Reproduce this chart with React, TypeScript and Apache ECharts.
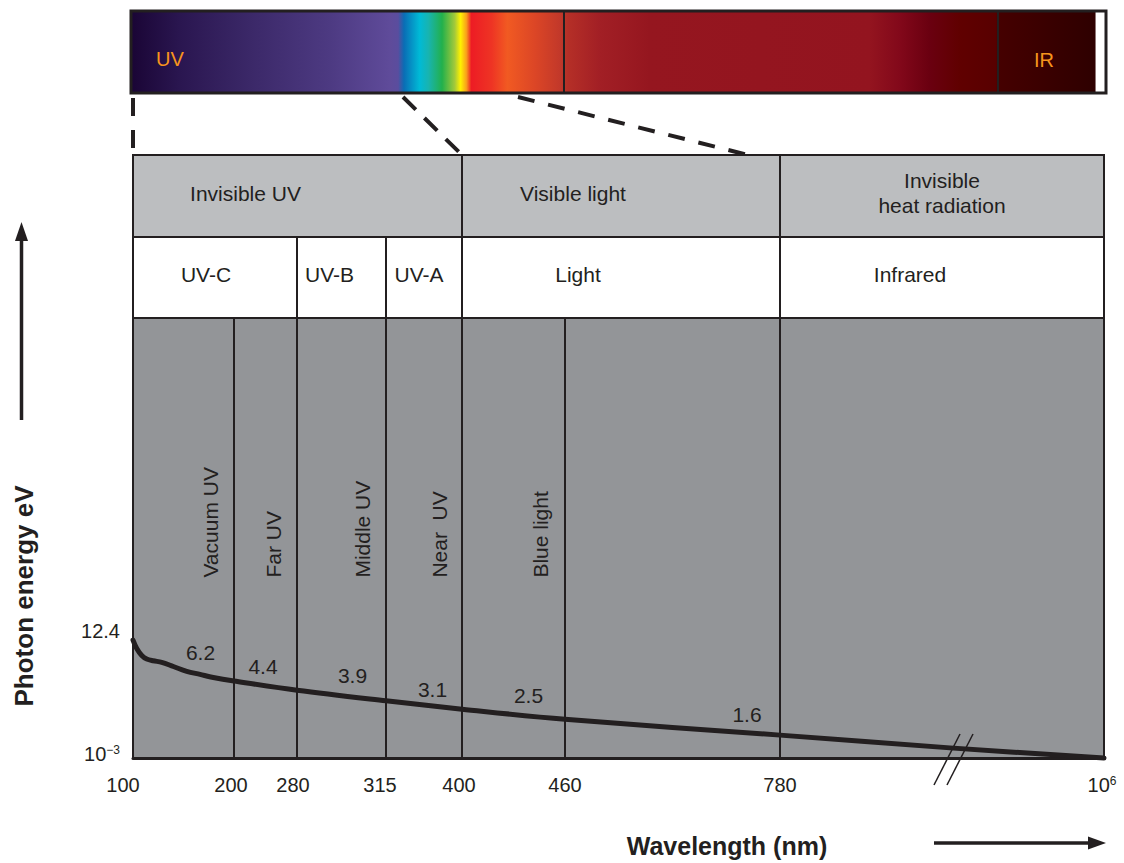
import React, { useEffect, useRef } from 'react';
import * as echarts from 'echarts';

// ---- data ----
const boundaryWavelengths = [100, 200, 280, 315, 400, 460, 780, 1000000];
const boundaryLabels = ['100', '200', '280', '315', '400', '460', '780', '10{sup|6}'];
// display position of each boundary on the diagram's broken wavelength scale
const boundaryPositions = [0, 101, 164, 253, 329, 432, 647, 971];

const curveWavelengths = [100, 102.6, 106.2, 109.9, 114.9, 121.8, 131.9, 144.6, 158.4, 173.5, 200, 280, 315, 400, 460, 780, 33300, 1000000];
const curveHeights = [26.8, 24.9, 23.3, 22.5, 22.1, 21.75, 20.8, 19.7, 19.0, 18.3, 17.5, 15.4, 13.0, 11.1, 8.8, 5.2, 2.3, 0];

const energyLabels = ['6.2', '4.4', '3.9', '3.1', '2.5', '1.6'];
const subBandNames = ['Vacuum UV', 'Far UV', 'Middle UV', 'Near  UV', 'Blue light'];

const groupNames = ['Invisible UV', 'Visible light', 'Invisible\nheat radiation'];
const groupFrom = [100, 400, 780];
const groupTo = [400, 780, 1000000];

const bandNames = ['UV-C', 'UV-B', 'UV-A', 'Light', 'Infrared'];
const bandFrom = [100, 280, 315, 400, 780];
const bandTo = [280, 315, 400, 780, 1000000];

const yTickValues = [0.9, 28.9];
const yTickLabels = ['10{sup|\u22123}', '12.4'];

// ---- layout ----
const tickNudge = [-10, -3, -4, -6, -3, 0, 0, -2];
const energyLabelAt = [[67.5, 23.9], [130, 20.9], [219.5, 18.75], [299.5, 15.6], [395.5, 14.2], [614, 9.9]];
const subBandLabelX = [77.7, 140.3, 229.7, 306.3, 407];
const subBandLabelY = 41.0;
const groupLabelNudge = [-52, -48, 0];
const bandLabelNudge = [-9, -12, -5, -43, -32];
const ROW2_TOP = 118.4;
const ROW1_TOP = 137.05;
const ROW1_TEXT = 128.4;
const ROW2_TEXT = 109.8;
const BREAK_POS = 820;

const FONT = "'Liberation Sans', Arial, Helvetica, sans-serif";
const INK = '#231f20';
const TEXT_SIZE = 21;

function posOf(l: number): number {
  const n = boundaryWavelengths.length;
  for (let i = 0; i < n - 1; i++) {
    const a = boundaryWavelengths[i];
    const b = boundaryWavelengths[i + 1];
    if (l <= b || i === n - 2) {
      const t = Math.log(l / a) / Math.log(b / a);
      return boundaryPositions[i] + t * (boundaryPositions[i + 1] - boundaryPositions[i]);
    }
  }
  return 0;
}

function txt(x: number, y: number, text: string, extra: any = {}, rotation = 0) {
  const align = extra.align || 'center';
  const vAlign = extra.verticalAlign || 'middle';
  return {
    type: 'text',
    x,
    y,
    rotation,
    style: {
      text,
      fill: INK,
      fontSize: TEXT_SIZE,
      fontFamily: FONT,
      ...extra,
      align,
      verticalAlign: vAlign,
      textAlign: align,
      textVerticalAlign: vAlign,
    },
  };
}

function headerSeries(names: string[], from: number[], to: number[], y0: number, y1: number, textY: number, nudge: number[], fill: string) {
  return {
    type: 'custom',
    clip: false,
    silent: true,
    z: 5,
    data: names.map((_, i) => [posOf(from[i]), posOf(to[i])]),
    renderItem: (params: any, api: any) => {
      const i = params.dataIndex;
      const a = api.coord([api.value(0), y1]);
      const b = api.coord([api.value(1), y0]);
      const ty = api.coord([0, textY])[1];
      return {
        type: 'group',
        children: [
          {
            type: 'rect',
            shape: { x: a[0], y: a[1], width: b[0] - a[0], height: b[1] - a[1] },
            style: { fill, stroke: INK, lineWidth: 2 },
          },
          txt((a[0] + b[0]) / 2 + nudge[i], ty, names[i], { lineHeight: 25 }),
        ],
      };
    },
  };
}

function buildOption() {
  const rich: any = { sup: { fontSize: 12, verticalAlign: 'top', fontFamily: FONT, color: INK } };
  tickNudge.forEach((n) => {
    if (n) rich['w' + Math.abs(2 * n)] = { width: Math.abs(2 * n), fontSize: 20 };
  });

  const spectrumStops = [
    [0.0, '#1a0535'], [0.05, '#2a1650'], [0.122, '#3b2868'], [0.204, '#4d3a82'],
    [0.266, '#5f4b9a'], [0.274, '#5a4d9e'], [0.28, '#0a6db5'], [0.296, '#00bad6'],
    [0.305, '#18b4b0'], [0.319, '#22b04c'], [0.332, '#a3c93a'], [0.338, '#fff200'],
    [0.344, '#f9a01b'], [0.349, '#ed1c24'], [0.37, '#ee3424'], [0.386, '#f15a22'],
    [0.414, '#dc4626'], [0.442, '#c0372a'], [0.448, '#b52f27'], [0.481, '#a21f25'],
    [0.532, '#95161f'], [0.758, '#93141f'], [0.789, '#82081a'], [0.819, '#6a0010'],
    [0.85, '#600000'], [0.887, '#580000'], [0.89, '#450000'], [0.989, '#2e0000'],
    [0.9895, '#ffffff'], [1, '#ffffff'],
  ].map(([offset, color]) => ({ offset, color }));

  return {
    animation: false,
    backgroundColor: '#ffffff',
    textStyle: { fontFamily: FONT },
    grid: {
      left: 133, top: 318, right: 20, bottom: 105,
      show: true, backgroundColor: '#939598', borderColor: INK, borderWidth: 2,
      containLabel: false, outerBoundsMode: 'none',
    },
    xAxis: {
      type: 'value', min: 0, max: 971,
      splitLine: { show: false },
      axisTick: { show: false },
      axisLine: { show: true, onZero: false, lineStyle: { color: INK, width: 3 } },
      axisLabel: {
        customValues: boundaryPositions,
        margin: 17,
        fontSize: 20,
        color: INK,
        fontFamily: FONT,
        rich,
        formatter: (v: number) => {
          const i = boundaryPositions.indexOf(v);
          if (i < 0) return '';
          const n = Math.abs(2 * tickNudge[i]);
          return boundaryLabels[i] + (n ? `{w${n}| }` : '');
        },
      },
    },
    yAxis: {
      type: 'value', min: 0, max: 100,
      splitLine: { show: false },
      axisTick: { show: false },
      axisLine: { show: false },
      axisLabel: {
        customValues: yTickValues,
        margin: 13,
        fontSize: 20,
        color: INK,
        fontFamily: FONT,
        rich,
        formatter: (v: number) => {
          const i = yTickValues.indexOf(v);
          return i < 0 ? '' : yTickLabels[i];
        },
      },
    },
    series: [
      headerSeries(groupNames, groupFrom, groupTo, ROW2_TOP, ROW1_TOP, ROW1_TEXT, groupLabelNudge, '#bcbec0'),
      headerSeries(bandNames, bandFrom, bandTo, 100, ROW2_TOP, ROW2_TEXT, bandLabelNudge, '#ffffff'),
      {
        type: 'custom',
        clip: false,
        silent: true,
        z: 2,
        data: boundaryWavelengths.slice(1, -1).map((l) => [posOf(l), 0]),
        renderItem: (params: any, api: any) => {
          const a = api.coord([api.value(0), 0]);
          const b = api.coord([api.value(0), 100]);
          return {
            type: 'line',
            shape: { x1: a[0], y1: a[1], x2: b[0], y2: b[1] },
            style: { stroke: INK, lineWidth: 2 },
          };
        },
      },
      {
        type: 'custom',
        clip: false,
        silent: true,
        z: 3,
        data: subBandNames.map((_, i) => [subBandLabelX[i], subBandLabelY]),
        renderItem: (params: any, api: any) => {
          const p = api.coord([api.value(0), api.value(1)]);
          return txt(p[0], p[1], subBandNames[params.dataIndex], { align: 'left' }, Math.PI / 2);
        },
      },
      {
        type: 'line',
        z: 4,
        clip: false,
        silent: true,
        smooth: 0.35,
        showSymbol: false,
        symbol: 'none',
        lineStyle: { color: INK, width: 5, cap: 'round', join: 'round' },
        data: curveWavelengths.map((l, i) => [posOf(l), curveHeights[i]]),
      },
      {
        type: 'custom',
        clip: false,
        silent: true,
        z: 3,
        data: energyLabels.map((_, i) => energyLabelAt[i]),
        renderItem: (params: any, api: any) => {
          const p = api.coord([api.value(0), api.value(1)]);
          return txt(p[0], p[1], energyLabels[params.dataIndex]);
        },
      },
      {
        type: 'custom',
        clip: false,
        silent: true,
        z: 6,
        data: [[BREAK_POS, 0]],
        renderItem: (params: any, api: any) => {
          const p = api.coord([api.value(0), api.value(1)]);
          return {
            type: 'group',
            children: [
              { type: 'line', shape: { x1: p[0] - 19, y1: p[1] + 27, x2: p[0] + 7, y2: p[1] - 24 }, style: { stroke: INK, lineWidth: 1.5 } },
              { type: 'line', shape: { x1: p[0] - 6, y1: p[1] + 27, x2: p[0] + 20, y2: p[1] - 24 }, style: { stroke: INK, lineWidth: 1.5 } },
            ],
          };
        },
      },
    ],
    graphic: [
      {
        type: 'rect',
        shape: { x: 131, y: 11, width: 975, height: 82 },
        style: {
          fill: { type: 'linear', x: 0, y: 0, x2: 1, y2: 0, colorStops: spectrumStops },
          stroke: INK,
          lineWidth: 3,
        },
      },
      { type: 'line', shape: { x1: 564, y1: 11, x2: 564, y2: 93 }, style: { stroke: INK, lineWidth: 2 } },
      { type: 'line', shape: { x1: 998, y1: 11, x2: 998, y2: 93 }, style: { stroke: INK, lineWidth: 2 } },
      txt(170, 59, 'UV', { fill: '#f7941d', fontSize: 20 }),
      txt(1044, 60, 'IR', { fill: '#f7941d', fontSize: 20 }),
      { type: 'line', shape: { x1: 133, y1: 98, x2: 133, y2: 148 }, style: { stroke: INK, lineWidth: 4, lineDash: [18, 14] } },
      { type: 'line', shape: { x1: 403, y1: 97, x2: 462, y2: 155 }, style: { stroke: INK, lineWidth: 4, lineDash: [18, 12] } },
      { type: 'line', shape: { x1: 518, y1: 97, x2: 748, y2: 155 }, style: { stroke: INK, lineWidth: 4, lineDash: [17, 14] } },
      // axis arrows
      { type: 'line', shape: { x1: 21.5, y1: 420, x2: 21.5, y2: 236 }, style: { stroke: INK, lineWidth: 3.5 } },
      { type: 'polygon', shape: { points: [[21.5, 222], [15, 241], [28, 241]] }, style: { fill: INK } },
      { type: 'line', shape: { x1: 934, y1: 843, x2: 1092, y2: 843 }, style: { stroke: INK, lineWidth: 3.5 } },
      { type: 'polygon', shape: { points: [[1106, 843], [1088, 836.5], [1088, 849.5]] }, style: { fill: INK } },
      txt(24, 596, 'Photon energy eV', { fontSize: 26, fontWeight: 'bold' }, Math.PI / 2),
      txt(727, 846, 'Wavelength (nm)', { fontSize: 25, fontWeight: 'bold' }),
    ],
  };
}

export default function App() {
  const ref = useRef<HTMLDivElement>(null);
  useEffect(() => {
    if (!ref.current) return;
    const chart = echarts.init(ref.current, null, { renderer: 'svg' });
    chart.setOption(buildOption() as any);
    return () => chart.dispose();
  }, []);
  return (
    <div
      ref={ref}
      style={{ position: 'fixed', left: 0, top: 0, width: 1124, height: 863, background: '#ffffff' }}
    />
  );
}
